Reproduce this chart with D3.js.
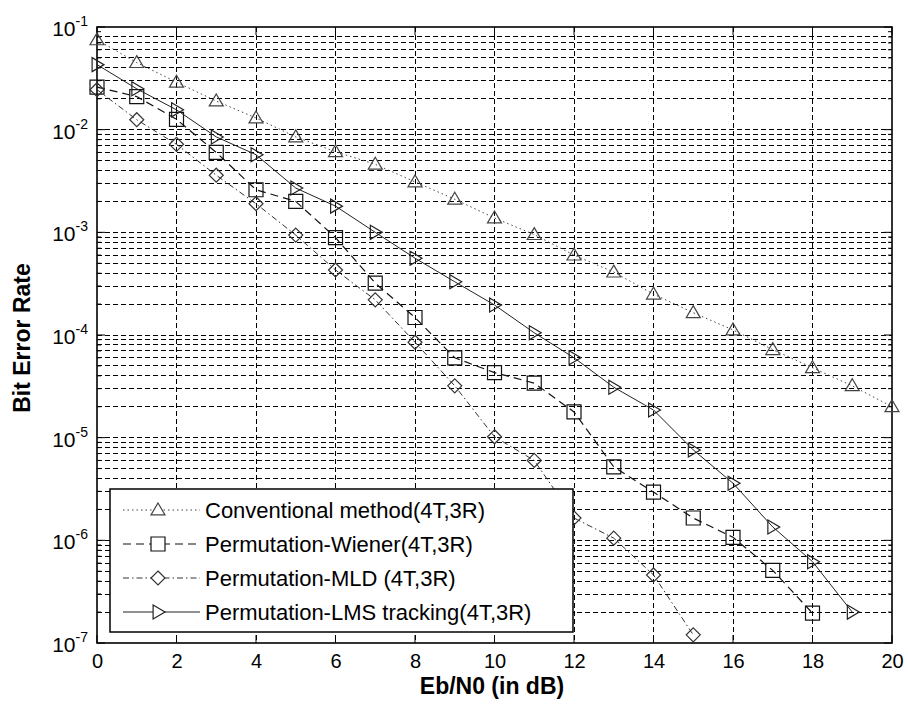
<!DOCTYPE html>
<html>
<head>
<meta charset="utf-8">
<script src="https://cdn.jsdelivr.net/npm/d3@7"></script>
<style>
  body { margin: 0; background: #fff; }
  svg { font-family: "Liberation Sans", Arial, sans-serif; }
  .grid line { stroke: #000; stroke-width: 1; stroke-dasharray: 5,3; shape-rendering: crispEdges; }
</style>
</head>
<body>
<div id="chart"></div>
<script>
'use strict';

// Eb/N0 values (dB)
var snrConv = d3.range(0, 21);
var snrWiener = d3.range(0, 19);
var snrMld = d3.range(0, 16);
var snrLms = d3.range(0, 20);

// bit error rates
var berConv = [0.075, 0.045, 0.029, 0.019, 0.013, 0.0085, 0.0061, 0.0046, 0.0031, 0.0021,
  0.00138, 0.00095, 0.0006, 0.00041, 0.00025, 0.000165, 0.000112, 7.2e-5, 4.8e-5, 3.2e-5, 2.0e-5];
var berWiener = [0.026, 0.021, 0.0126, 0.006, 0.0026, 0.002, 0.00089, 0.00032, 0.000148, 6.0e-5,
  4.3e-5, 3.4e-5, 1.78e-5, 5.2e-6, 2.95e-6, 1.65e-6, 1.07e-6, 5.1e-7, 1.95e-7];
var berMld = [0.0245, 0.0125, 0.0072, 0.0036, 0.0019, 0.00094, 0.00043, 0.00022, 8.5e-5, 3.2e-5,
  1.02e-5, 6.0e-6, 1.65e-6, 1.05e-6, 4.6e-7, 1.2e-7];
var berLms = [0.043, 0.025, 0.0156, 0.0085, 0.0057, 0.0027, 0.0018, 0.001, 0.00056, 0.00033,
  0.000196, 0.000105, 6.0e-5, 3.1e-5, 1.86e-5, 7.6e-6, 3.6e-6, 1.35e-6, 6.2e-7, 2.0e-7];

var legendLabels = ['Conventional method(4T,3R)', 'Permutation-Wiener(4T,3R)',
  'Permutation-MLD (4T,3R)', 'Permutation-LMS tracking(4T,3R)'];

var xTicks = d3.range(0, 21, 2);
var yDecades = [-7, -6, -5, -4, -3, -2, -1];

var series = [
  { x: snrConv, y: berConv, marker: 'tri', dash: '1.5,3', stroke: '#444', width: 1 },
  { x: snrWiener, y: berWiener, marker: 'square', dash: '8,5', stroke: '#111', width: 1.2 },
  { x: snrMld, y: berMld, marker: 'diamond', dash: '6,3,1.5,3', stroke: '#333', width: 1 },
  { x: snrLms, y: berLms, marker: 'right', dash: null, stroke: '#222', width: 1 }
];

var W = 908, H = 704;
var pLeft = 97, pRight = 892, pTop = 27, pBottom = 643;

var svg = d3.select('#chart').append('svg')
  .attr('width', W).attr('height', H);

var x = d3.scaleLinear().domain([0, 20]).range([pLeft, pRight]);
var y = d3.scaleLog().domain([1e-7, 1e-1]).range([pBottom, pTop]);

// grid
var minor = [];
yDecades.slice(0, -1).forEach(function(e) {
  for (var k = 1; k <= 9; k++) minor.push(k * Math.pow(10, e));
});
minor.push(1e-1);

var grid = svg.append('g').attr('class', 'grid');
grid.selectAll('.hg').data(minor.filter(function(v) { return v > 1.5e-7 && v < 0.09; }))
  .enter().append('line')
  .attr('x1', pLeft).attr('x2', pRight)
  .attr('y1', function(d) { return y(d); })
  .attr('y2', function(d) { return y(d); });
grid.selectAll('.vg').data(xTicks.slice(1, -1))
  .enter().append('line')
  .attr('y1', pTop).attr('y2', pBottom)
  .attr('x1', function(d) { return x(d); })
  .attr('x2', function(d) { return x(d); });

// axes
var xAxis = svg.append('g')
  .attr('transform', 'translate(0,' + pBottom + ')')
  .call(d3.axisBottom(x).tickValues(xTicks).tickSize(0).tickPadding(11));
xAxis.select('.domain').remove();
xAxis.selectAll('text').attr('font-size', 20).attr('fill', '#000')
  .attr('font-family', '"Liberation Sans", Arial, sans-serif');

var yAxis = svg.append('g')
  .attr('transform', 'translate(' + pLeft + ',0)')
  .call(d3.axisLeft(y).tickValues(yDecades.map(function(e) { return Math.pow(10, e); }))
    .tickSize(0).tickPadding(9).tickFormat(''));
yAxis.select('.domain').remove();
yAxis.selectAll('.tick text')
  .attr('font-size', 21).attr('fill', '#000').attr('dy', '0.4em')
  .attr('font-family', '"Liberation Sans", Arial, sans-serif')
  .each(function(d) {
    var t = d3.select(this);
    t.append('tspan').text('10');
    t.append('tspan').attr('font-size', 14).attr('dy', -10)
      .text(Math.round(Math.log10(d)).toString());
  });

// inside ticks
var ticks = svg.append('g').attr('stroke', '#000');
minor.forEach(function(v) {
  var len = Math.abs(Math.log10(v) - Math.round(Math.log10(v))) < 1e-9 ? 8 : 4;
  ticks.append('line').attr('x1', pLeft).attr('x2', pLeft + len).attr('y1', y(v)).attr('y2', y(v));
  ticks.append('line').attr('x1', pRight).attr('x2', pRight - len).attr('y1', y(v)).attr('y2', y(v));
});
xTicks.forEach(function(v) {
  ticks.append('line').attr('x1', x(v)).attr('x2', x(v)).attr('y1', pBottom).attr('y2', pBottom - 8);
  ticks.append('line').attr('x1', x(v)).attr('x2', x(v)).attr('y1', pTop).attr('y2', pTop + 8);
});

// frame
svg.append('rect').attr('x', pLeft).attr('y', pTop)
  .attr('width', pRight - pLeft).attr('height', pBottom - pTop)
  .attr('fill', 'none').attr('stroke', '#000').attr('stroke-width', 1.6);

// markers
function markerPath(type) {
  var s = 7;
  if (type === 'square') return 'M' + -s + ',' + -s + 'H' + s + 'V' + s + 'H' + -s + 'Z';
  if (type === 'diamond') return 'M0,' + -s + 'L' + s + ',0L0,' + s + 'L' + -s + ',0Z';
  if (type === 'tri') return 'M0,' + -s + 'L' + s + ',' + (s * 0.7) + 'L' + -s + ',' + (s * 0.7) + 'Z';
  return 'M' + (-s * 0.7) + ',' + -s + 'L' + s + ',0L' + (-s * 0.7) + ',' + s + 'Z';
}

var line = d3.line()
  .x(function(d) { return x(d[0]); })
  .y(function(d) { return y(d[1]); });

var plot = svg.append('g');
series.forEach(function(s) {
  var pts = d3.zip(s.x, s.y);
  plot.append('path').datum(pts)
    .attr('d', line)
    .attr('fill', 'none')
    .attr('stroke', s.stroke)
    .attr('stroke-width', s.width)
    .attr('stroke-dasharray', s.dash);
  plot.selectAll(null).data(pts).enter().append('path')
    .attr('transform', function(d) { return 'translate(' + x(d[0]) + ',' + y(d[1]) + ')'; })
    .attr('d', markerPath(s.marker))
    .attr('fill', 'none')
    .attr('stroke', s.stroke)
    .attr('stroke-width', 1.2);
});

// legend
var lg = svg.append('g');
lg.append('rect').attr('x', 110).attr('y', 489).attr('width', 463).attr('height', 143)
  .attr('fill', '#fff').attr('stroke', '#000').attr('stroke-width', 1.5);
series.forEach(function(s, i) {
  var ly = 510 + i * 34;
  lg.append('line').attr('x1', 123).attr('x2', 200).attr('y1', ly).attr('y2', ly)
    .attr('stroke', s.stroke).attr('stroke-width', s.width).attr('stroke-dasharray', s.dash);
  lg.append('path').attr('transform', 'translate(158,' + ly + ')')
    .attr('d', markerPath(s.marker)).attr('fill', '#fff')
    .attr('stroke', s.stroke).attr('stroke-width', 1.2);
  lg.append('text').attr('x', 205).attr('y', ly).attr('dy', '0.36em')
    .attr('font-size', 22).text(legendLabels[i]);
});

// axis labels
svg.append('text').attr('x', 492).attr('y', 694)
  .attr('text-anchor', 'middle').attr('font-weight', 'bold').attr('font-size', 23)
  .text('Eb/N0 (in dB)');
svg.append('text').attr('transform', 'translate(22,338) rotate(-90)')
  .attr('text-anchor', 'middle').attr('dy', '0.36em')
  .attr('font-weight', 'bold').attr('font-size', 23)
  .text('Bit Error Rate');
</script>
</body>
</html>
